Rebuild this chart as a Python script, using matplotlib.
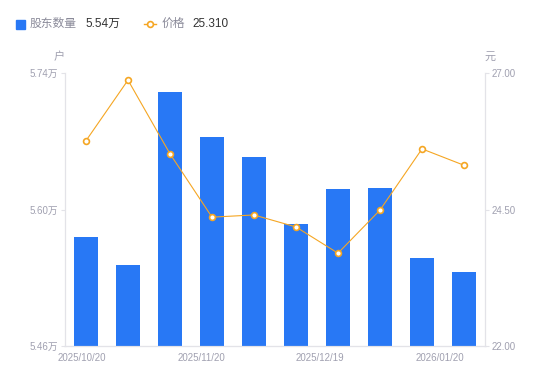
import numpy as np
import matplotlib.pyplot as plt

plt.rcParams['font.family'] = ['Liberation Sans', 'Noto Sans CJK SC', 'DejaVu Sans']

holders = [5.572, 5.543, 5.721, 5.674, 5.654, 5.585, 5.621, 5.622, 5.550, 5.536]
price = [25.76, 26.87, 25.52, 24.36, 24.40, 24.18, 23.70, 24.49, 25.61, 25.31]
tick_labels = ["2025/10/20", "2025/11/20", "2025/12/19", "2026/01/20"]
tick_pos = [-0.1, 2.74, 5.57, 8.43]

blue = "#2878F5"
orange = "#F5A623"
grey = "#A0A0B0"
axis_grey = "#E3E3E8"

fig = plt.figure(figsize=(5.5, 3.81), dpi=100)
ax = fig.add_axes([65/550, 1-346/381, 420/550, 273/381])
x = np.arange(len(holders))

ax.bar(x, holders, width=0.57, color=blue, zorder=2)
ax.set_xlim(-0.5, len(holders)-0.5)
ax.set_ylim(5.46, 5.74)
ax.set_yticks([5.46, 5.60, 5.74])
ax.set_yticklabels(["5.46万", "5.60万", "5.74万"])

ax2 = ax.twinx()
ax2.plot(x, price, color=orange, lw=0.8, marker='o', ms=4.2,
         mfc='white', mec=orange, mew=1.2, zorder=3)
ax2.set_ylim(22, 27)
ax2.set_yticks([22, 24.5, 27])
ax2.set_yticklabels(["22.00", "24.50", "27.00"])

for a in (ax, ax2):
    for s in a.spines.values():
        s.set_color(axis_grey)
        s.set_linewidth(0.8)
    a.spines['top'].set_visible(False)
    a.tick_params(colors=grey, labelsize=7, length=3, width=0.8, pad=2)
    a.tick_params(axis='y', color=axis_grey)

ax.set_xticks(tick_pos)
ax.set_xticklabels(tick_labels)
ax.tick_params(axis='x', length=0, pad=5)
ax.spines['bottom'].set_color("#D8D8DE")

fig.text(59/550, 1-57/381, "户", color=grey, fontsize=8, ha='center', va='center')
fig.text(490/550, 1-57/381, "元", color=grey, fontsize=8, ha='center', va='center')

# legend
fig.patches.append(plt.Rectangle((16/550, 1-29/381), 9/550, 9/381,
                                 transform=fig.transFigure, color=blue))
fig.text(30/550, 1-24/381, "股东数量", color="#8A8A99", fontsize=8.5, va='center')
fig.text(85/550, 1-24/381, "5.54万", color="#333333", fontsize=8.5, va='center')
fig.lines.append(plt.Line2D([144/550, 156/550], [1-24/381, 1-24/381],
                            transform=fig.transFigure, color=orange, lw=1))
fig.lines.append(plt.Line2D([150/550], [1-24/381], transform=fig.transFigure,
                            marker='o', ms=4.2, mfc='white', mec=orange, mew=1.2))
fig.text(162/550, 1-24/381, "价格", color="#8A8A99", fontsize=8.5, va='center')
fig.text(192/550, 1-24/381, "25.310", color="#333333", fontsize=8.5, va='center')

fig.savefig("out.png", dpi=100)
